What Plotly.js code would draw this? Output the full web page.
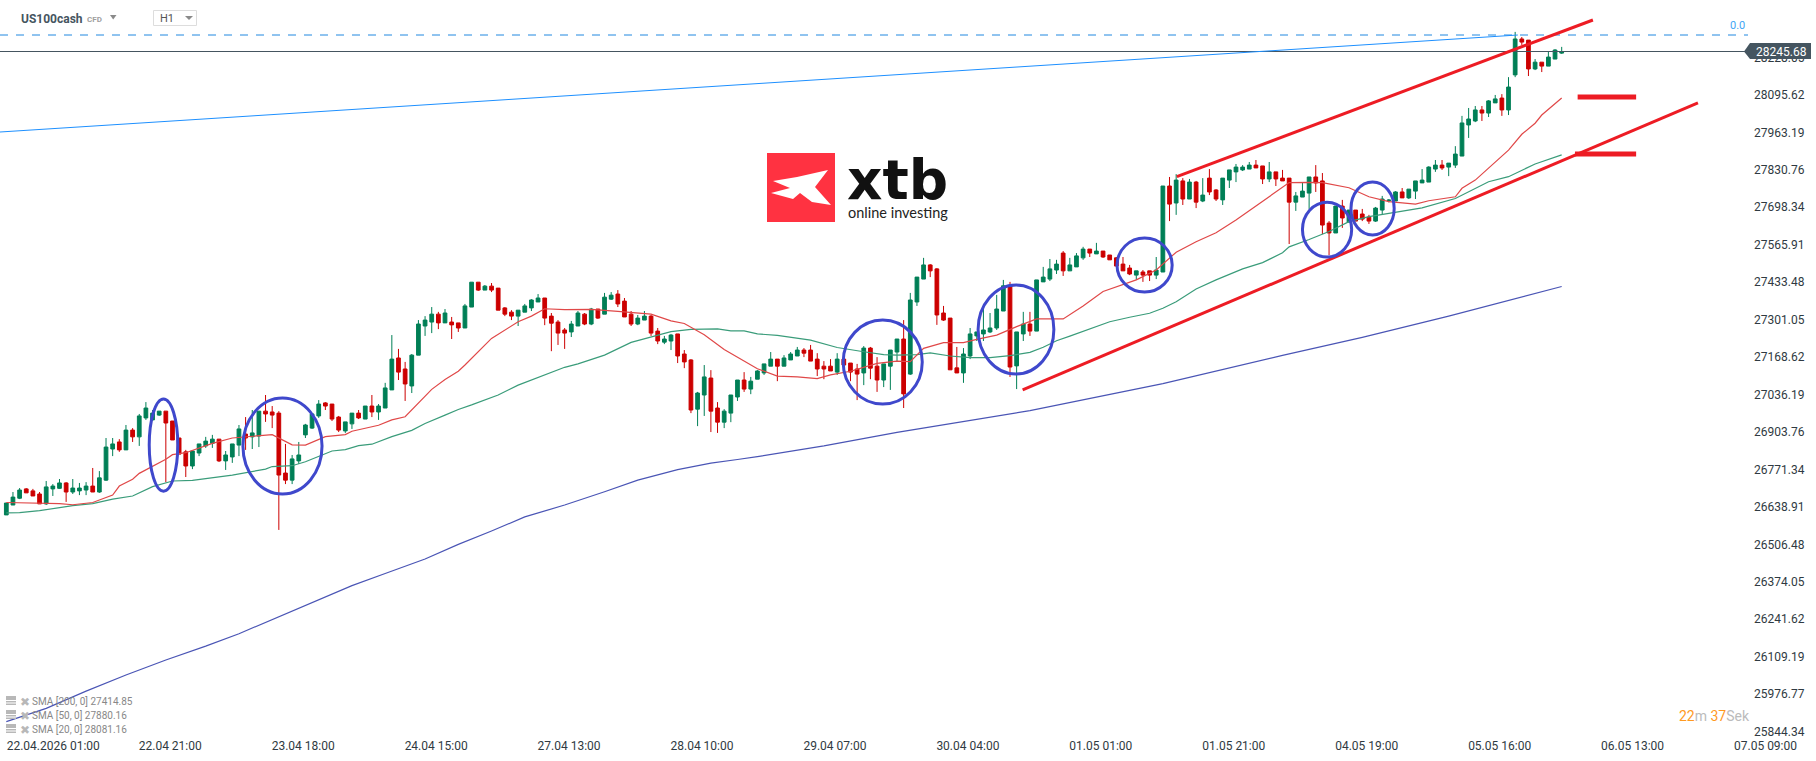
<!DOCTYPE html>
<html>
<head>
<meta charset="utf-8">
<script src="https://cdn.plot.ly/plotly-3.0.1.min.js"></script>
<style>
  html, body { margin: 0; padding: 0; background: #fff; overflow: hidden; }
  #chart { width: 1816px; height: 761px; }
</style>
</head>
<body>
<div id="chart"></div>
<script>
///////////////////////////////////////////////  data  /////////////////////////////////////////////////////////
var openVals = [
  26607,26642,26666,26699,26692,26681,26646,26699,26701,26720,
  26688,26692,26695,26709,26688,26730,26840,26865,26837,26907,
  26883,26950,26943,26960,26974,26939,26879,26830,26780,26826,
  26851,26860,26875,26798,26812,26854,26893,26883,26886,26974,
  26971,26967,26755,26730,26798,26890,26914,26957,27003,26999,
  26953,26904,26929,26967,26946,26992,26971,26985,27049,27162,
  27123,27063,27172,27275,27289,27317,27286,27289,27286,27268,
  27342,27430,27402,27416,27409,27339,27324,27310,27324,27339,
  27360,27374,27310,27289,27261,27254,27275,27317,27282,27335,
  27317,27370,27388,27363,27317,27282,27296,27310,27257,27218,
  27222,27247,27176,27155,26981,27031,27091,26985,26935,26967,
  27024,27084,27052,27087,27109,27133,27158,27133,27155,27169,
  27190,27190,27158,27133,27133,27112,27158,27144,27123,27109,
  27197,27133,27084,27133,27183,27229,27105,27360,27441,27491,
  27477,27321,27303,27127,27109,27169,27240,27247,27254,27268,
  27328,27417,27134,27247,27282,27257,27431,27441,27473,27533,
  27470,27484,27516,27547,27530,27540,27526,27516,27494,27480,
  27455,27466,27470,27455,27466,27770,27710,27788,27724,27784,
  27717,27798,27756,27721,27791,27820,27827,27830,27844,27841,
  27795,27820,27798,27798,27713,27731,27745,27802,27788,27639,
  27604,27699,27643,27685,27671,27660,27646,27685,27718,27717,
  27749,27728,27752,27781,27784,27830,27844,27837,27844,27876,
  27986,28000,28039,28028,28064,28081,28039,28163,28290,28286,
  28184,28208,28194,28219,28240
];
var highVals = [
  26649,26688,26702,26702,26699,26688,26727,26716,26734,26723,
  26734,26720,26723,26773,26762,26879,26879,26875,26925,26914,
  26964,27006,26978,26974,26974,26939,26879,26837,26833,26858,
  26883,26890,26875,26833,26858,26925,26953,26978,26974,27031,
  26992,26974,26858,26819,26865,26929,26964,27013,27006,26999,
  26957,26936,26967,26978,26992,27031,26999,27074,27243,27194,
  27148,27176,27296,27310,27342,27325,27335,27307,27286,27353,
  27430,27430,27420,27427,27409,27342,27331,27331,27353,27370,
  27388,27374,27321,27296,27268,27293,27328,27321,27339,27335,
  27392,27395,27402,27374,27328,27314,27328,27314,27268,27240,
  27247,27247,27190,27158,27042,27137,27119,27006,26981,27031,
  27084,27112,27095,27119,27141,27183,27158,27172,27183,27201,
  27197,27208,27179,27151,27158,27179,27158,27144,27141,27204,
  27201,27165,27141,27190,27229,27296,27392,27448,27516,27494,
  27480,27346,27303,27201,27197,27268,27254,27335,27321,27385,
  27438,27431,27254,27325,27325,27438,27484,27512,27509,27540,
  27516,27533,27555,27547,27569,27540,27526,27519,27519,27491,
  27470,27473,27470,27519,27770,27802,27812,27798,27795,27788,
  27798,27830,27759,27798,27827,27848,27844,27855,27862,27841,
  27855,27820,27827,27798,27749,27784,27802,27844,27816,27646,
  27699,27721,27685,27685,27689,27668,27696,27735,27724,27752,
  27763,27759,27788,27830,27840,27862,27862,27851,27911,28018,
  28046,28053,28053,28074,28092,28095,28155,28315,28297,28286,
  28219,28208,28244,28254,28262
];
var lowVals = [
  26607,26642,26663,26685,26674,26646,26642,26674,26699,26653,
  26681,26677,26677,26688,26685,26727,26815,26830,26837,26865,
  26851,26943,26939,26957,26723,26872,26822,26741,26769,26815,
  26844,26844,26794,26766,26791,26815,26837,26840,26847,26936,
  26914,26554,26716,26716,26787,26879,26911,26950,26978,26939,
  26900,26897,26911,26946,26946,26953,26943,26985,27049,27084,
  27010,27038,27172,27240,27250,27264,27286,27229,27254,27268,
  27342,27399,27402,27395,27331,27310,27296,27275,27324,27328,
  27360,27278,27186,27208,27194,27236,27275,27278,27278,27300,
  27317,27367,27342,27307,27275,27278,27296,27240,27211,27211,
  27190,27144,27126,26967,26921,26957,26900,26897,26914,26935,
  27010,27042,27034,27087,27102,27133,27080,27133,27155,27169,
  27165,27151,27098,27087,27116,27102,27109,27080,27013,27066,
  27087,27042,27059,27049,27151,26985,27102,27346,27441,27448,
  27279,27293,27120,27109,27074,27158,27222,27222,27250,27261,
  27328,27095,27052,27222,27240,27257,27431,27434,27459,27452,
  27470,27484,27509,27519,27530,27516,27509,27487,27470,27455,
  27438,27431,27434,27441,27466,27646,27668,27703,27724,27692,
  27713,27738,27717,27703,27763,27784,27823,27830,27834,27777,
  27784,27770,27788,27565,27682,27731,27689,27749,27600,27526,
  27604,27622,27640,27646,27646,27636,27643,27671,27712,27717,
  27728,27724,27724,27781,27784,27820,27827,27805,27834,27876,
  27940,27996,28000,28014,28064,28018,28021,28155,28269,28159,
  28180,28173,28194,28219,28237
];
var closeVals = [
  26649,26670,26695,26685,26674,26646,26706,26709,26720,26688,
  26702,26702,26709,26688,26738,26847,26858,26837,26907,26883,
  26957,26985,26967,26974,26932,26872,26822,26780,26833,26858,
  26868,26875,26798,26819,26858,26911,26879,26897,26974,26964,
  26960,26748,26730,26805,26819,26925,26964,26999,26992,26946,
  26907,26936,26967,26950,26992,26971,26992,27056,27158,27112,
  27070,27172,27282,27296,27317,27286,27321,27279,27268,27346,
  27430,27402,27416,27402,27331,27317,27310,27331,27346,27367,
  27374,27303,27285,27250,27250,27282,27321,27282,27335,27303,
  27377,27384,27353,27307,27282,27303,27310,27250,27222,27229,
  27243,27169,27148,26978,27038,27095,26974,26935,26974,27031,
  27084,27052,27080,27116,27141,27158,27133,27162,27176,27190,
  27179,27151,27123,27123,27116,27158,27137,27112,27105,27197,
  27126,27084,27141,27190,27229,27035,27367,27448,27491,27470,
  27314,27296,27120,27109,27176,27247,27254,27261,27268,27335,
  27417,27130,27254,27282,27257,27438,27448,27477,27494,27470,
  27491,27523,27547,27533,27540,27519,27509,27487,27470,27459,
  27470,27455,27455,27473,27770,27706,27791,27724,27784,27713,
  27738,27749,27724,27798,27827,27837,27837,27844,27834,27795,
  27820,27795,27788,27713,27735,27752,27802,27781,27632,27604,
  27699,27657,27685,27646,27653,27646,27692,27724,27720,27749,
  27728,27759,27788,27791,27837,27844,27834,27851,27883,27993,
  28007,28039,28028,28071,28078,28039,28120,28290,28279,28184,
  28208,28194,28226,28251,28245.68
];

// moving averages, read at a bar number
var sma20Bars = [1,5,9,11,14,17,18,20,21,25,26,28,32,35,38,41,44,46,49,52,53,57,59,61,65,67,69,70,74,78,80,82,85,89,93,98,101,103,106,109,114,117,120,123,125,128,132,135,137,139,142,145,147,150,153,156,160,163,166,169,171,174,177,180,183,186,191,194,197,199,203,206,209,213,215,219,220,222,227,229,231,232,235];
var sma20Vals = [26651,26650,26647,26643,26651,26677,26709,26733,26754,26804,26820,26827,26860,26879,26886,26891,26855,26854,26884,26891,26903,26924,26943,26954,27051,27086,27115,27137,27231,27290,27310,27336,27333,27334,27327,27317,27293,27284,27244,27192,27124,27098,27095,27089,27102,27115,27143,27151,27149,27196,27216,27216,27228,27243,27273,27300,27300,27346,27397,27420,27438,27473,27536,27573,27605,27650,27732,27782,27783,27782,27764,27732,27715,27706,27718,27732,27762,27791,27897,27953,27992,28021,28081.16];

var sma50Bars = [1,3,6,11,14,17,20,23,26,29,35,38,40,41,44,46,48,50,52,54,56,59,62,64,67,69,71,75,78,82,85,87,91,95,98,101,104,108,110,112,114,117,122,126,130,133,135,138,140,143,146,149,152,155,157,159,161,164,167,170,173,175,177,180,183,187,190,193,194,197,200,203,206,209,214,219,224,227,228,231,235];
var sma50Vals = [26614,26615,26622,26640,26647,26663,26674,26707,26727,26729,26748,26761,26769,26778,26781,26795,26815,26833,26838,26852,26857,26884,26906,26930,26960,26980,26996,27031,27066,27102,27129,27141,27172,27217,27235,27255,27263,27265,27258,27258,27247,27242,27225,27199,27184,27174,27172,27174,27180,27169,27163,27163,27170,27182,27200,27223,27239,27265,27290,27306,27320,27338,27361,27406,27438,27477,27499,27534,27555,27581,27609,27644,27662,27673,27693,27726,27785,27803,27815,27848,27880.16];

var sma200Bars = [1,7,13,19,25,31,36,42,47,53,58,64,69,74,79,85,91,96,102,107,111,114,124,135,155,175,193,205,218,235];
var sma200Vals = [25876,25923,25984,26041,26094,26143,26187,26247,26297,26357,26400,26451,26503,26550,26600,26642,26689,26730,26767,26790,26803,26813,26851,26899,26976,27071,27171,27235,27310,27414.85];

var priceTicks = [25844.34,25976.77,26109.19,26241.62,26374.05,26506.48,26638.91,26771.34,26903.76,27036.19,27168.62,27301.05,27433.48,27565.91,27698.34,27830.76,27963.19,28095.62,28228.05];
var dateTickBars = [3.4,21,41,61,81,101,121,141,161,181,201,221,241,261];
var dateTickLabels = ['22.04.2026 01:00','22.04 21:00','23.04 18:00','24.04 15:00','27.04 13:00','28.04 10:00','29.04 07:00','30.04 04:00','01.05 01:00','01.05 21:00','04.05 19:00','05.05 16:00','06.05 13:00','07.05 09:00'];

var lastPrice = 28245.68;
var fibPrice = 28304;
var smaLegend = ['SMA [200, 0] 27414.85', 'SMA [50, 0] 27880.16', 'SMA [20, 0] 28081.16'];

// hand drawn annotations of the analyst: [bar, price, bar, price]
var redLines = [
  [177.1, 27803, 239.7, 28357],
  [153.9, 27049, 255.5, 28064]
];
var redLevels = [
  [237.4, 28085, 246.2, 28085],
  [237.0, 27883, 246.2, 27883]
];
var fibLine = [0.05, 27961, 228.4, 28304];
var circles = [
  [22.5, 27017, 26.8, 26691],
  [36.6, 27020, 48.5, 26681],
  [126.9, 27296, 138.8, 26999],
  [147.2, 27420, 158.6, 27105],
  [168.1, 27586, 176.4, 27395],
  [196.0, 27713, 203.4, 27519],
  [203.3, 27784, 209.8, 27597]
];

/////////////////////////////////////////////  layout helpers  /////////////////////////////////////////////////////
var plotW = 1748, plotH = 737;
function px(x) { return x / plotW; }
function py(y) { return 1 - y / plotH; }

function segment(c, color, width, dash) {
  return {type: 'line', xref: 'x', yref: 'y', x0: c[0], y0: c[1], x1: c[2], y1: c[3],
          line: {color: color, width: width, dash: dash || 'solid'}};
}
function pxPath(points, fill) {
  var d = points.map(function(p, i) {
    return (i ? 'L' : 'M') + px(p[0]) + ',' + py(p[1]);
  }).join(' ') + ' Z';
  return {type: 'path', xref: 'paper', yref: 'paper', path: d, fillcolor: fill, line: {width: 0}};
}
function pxRect(x0, y0, x1, y1, fill) {
  return {type: 'rect', xref: 'paper', yref: 'paper', x0: px(x0), x1: px(x1), y0: py(y0), y1: py(y1),
          fillcolor: fill, line: {width: 0}};
}
function label(x, y, text, size, color, family) {
  return {xref: 'paper', yref: 'paper', x: px(x), y: py(y), text: text, showarrow: false,
          xanchor: 'left', yanchor: 'middle', borderpad: 0,
          font: {family: family || 'Roboto', size: size, color: color}};
}

/////////////////////////////////////////////  shapes  /////////////////////////////////////////////////////////
var shapes = [];
shapes.push(segment([0.05, lastPrice, 263.03, lastPrice], '#455560', 1));
shapes.push(segment([0.05, fibPrice, 263.03, fibPrice], '#2088e0', 1, '8px,8px'));
shapes.push(segment(fibLine, '#1e90ff', 1));

redLines.forEach(function(c) { shapes.push(segment(c, '#ed1c24', 3)); });
redLevels.forEach(function(c) { shapes.push(segment(c, '#ed1c24', 5)); });

circles.forEach(function(c) {
  shapes.push({type: 'circle', xref: 'x', yref: 'y', x0: c[0], y0: c[1], x1: c[2], y1: c[3],
               line: {color: '#3f48cc', width: 3}});
});

// price tag
shapes.push(pxPath([[1744,51.5],[1750,43],[1811,43],[1811,59],[1750,59]], '#455560'));

// header drop downs
shapes.push(pxPath([[110,15],[116.5,15],[113.2,19.5]], '#8a8a8a'));
shapes.push({type: 'rect', xref: 'paper', yref: 'paper', x0: px(153.5), x1: px(196.5), y0: py(10.5), y1: py(25.5),
             fillcolor: 'rgba(0,0,0,0)', line: {color: '#dddddd', width: 1}});
shapes.push(pxPath([[185,16],[193,16],[189,20]], '#8a8a8a'));

// logo
shapes.push(pxRect(767, 153, 835, 222, '#ff3241'));
shapes.push(pxPath([[773,181],[797,177],[828,170],[815,187],[831,205],[812,202],[800,193],[793,199],[771,193],[790,188]], '#ffffff'));

// small icons next to the indicator list
[701, 715, 729].forEach(function(y) {
  shapes.push(pxRect(6, y - 5, 16, y - 1, '#b8b8b8'));
  shapes.push(pxRect(6, y, 16, y + 1.5, '#b8b8b8'));
  shapes.push(pxRect(6, y + 2.5, 16, y + 4, '#b8b8b8'));
});

/////////////////////////////////////////////  texts  /////////////////////////////////////////////////////////
var annotations = [];
annotations.push(label(20, 19, '<b>US100cash</b>', 12, '#455560'));
annotations.push(label(86, 19.5, '<b>CFD</b>', 8, '#a0a0a0'));
annotations.push(label(158.5, 19, 'H1', 11, '#555555'));
annotations.push(label(1729, 26, '0.0', 11, '#42a5f5'));
annotations.push(label(1755, 52, String(lastPrice), 12, '#ffffff'));
annotations.push(label(846, 180, '<b>xtb</b>', 55, '#111111', 'DejaVu Sans'));
annotations.push(label(847, 212, 'online investing', 14.5, '#222222', 'Lato'));
annotations.push(label(1678, 716,
  '<span style="color:#ff9a1f">22</span>m <span style="color:#ff9a1f">37</span>Sek', 14, '#bbbbbb'));

smaLegend.forEach(function(t, i) {
  var y = 701.5 + i * 14;
  annotations.push(label(18.5, y, '✖', 12, '#b8b8b8', 'DejaVu Sans'));
  annotations.push(label(31, y, t, 10, '#888888'));
});

/////////////////////////////////////////////  plot  /////////////////////////////////////////////////////////
var barNumbers = openVals.map(function(v, i) { return i + 1; });

var traces = [
  {type: 'scatter', mode: 'lines', x: sma200Bars, y: sma200Vals, line: {color: '#4a55b5', width: 1.2}, hoverinfo: 'skip'},
  {type: 'scatter', mode: 'lines', x: sma50Bars, y: sma50Vals, line: {color: '#3a9c7a', width: 1.2}, hoverinfo: 'skip'},
  {type: 'scatter', mode: 'lines', x: sma20Bars, y: sma20Vals, line: {color: '#e04848', width: 1.2}, hoverinfo: 'skip'},
  {
    type: 'candlestick',
    x: barNumbers,
    open: openVals,
    high: highVals,
    low: lowVals,
    close: closeVals,
    whiskerwidth: 0,
    increasing: {line: {color: '#007f56', width: 1}, fillcolor: '#007f56'},
    decreasing: {line: {color: '#cc0000', width: 1}, fillcolor: '#cc0000'},
    hoverinfo: 'skip'
  }
];

var layout = {
  width: 1816,
  height: 761,
  margin: {l: 0, r: 68, t: 0, b: 24, pad: 0},
  paper_bgcolor: '#ffffff',
  plot_bgcolor: '#ffffff',
  showlegend: false,
  boxgap: 0.2,
  xaxis: {
    type: 'linear',
    range: [0.05, 263.03],
    rangeslider: {visible: false},
    showgrid: false,
    zeroline: false,
    showline: false,
    ticks: '',
    tickmode: 'array',
    tickvals: dateTickBars,
    ticktext: dateTickLabels,
    tickangle: 0,
    ticklabelshift: 31,
    tickfont: {family: 'Roboto', size: 12, color: '#2f3a42'}
  },
  yaxis: {
    side: 'right',
    range: [25821.7, 28427.8],
    showgrid: false,
    zeroline: false,
    showline: false,
    ticks: '',
    tickmode: 'array',
    tickvals: priceTicks,
    ticktext: priceTicks.map(function(v) { return v.toFixed(2); }),
    ticklabelstandoff: 5,
    ticklabelshift: 1,
    tickfont: {family: 'Roboto', size: 12, color: '#2f3a42'}
  },
  shapes: shapes,
  annotations: annotations
};

Plotly.newPlot('chart', traces, layout, {displayModeBar: false, staticPlot: true});
</script>
</body>
</html>
